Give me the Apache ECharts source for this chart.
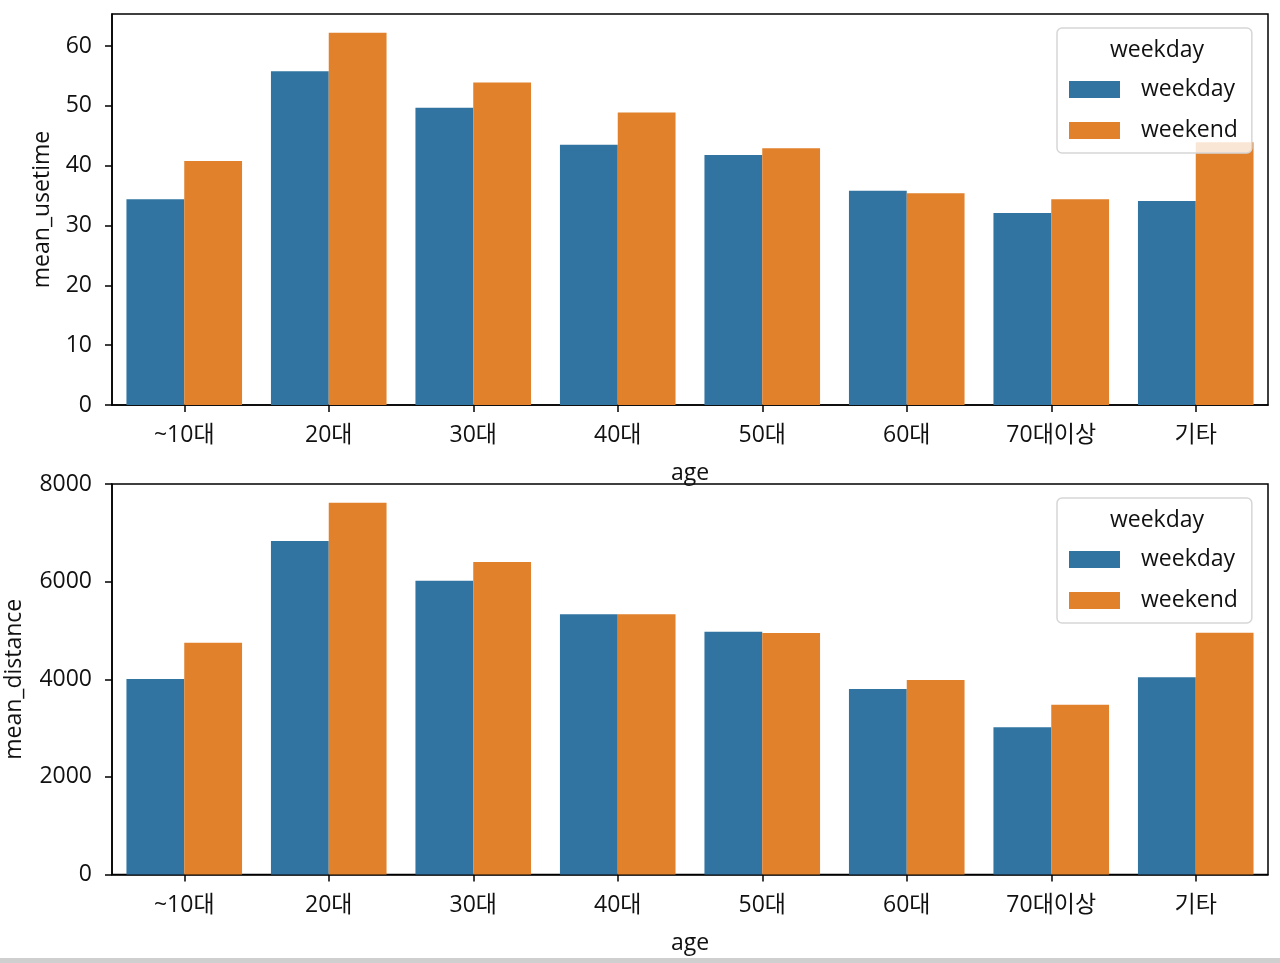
<!DOCTYPE html>
<html>
<head>
<meta charset="utf-8">
<script src="https://cdn.jsdelivr.net/npm/echarts@6/dist/echarts.min.js"></script>
<style>
html,body{margin:0;padding:0;background:#fff;}
#c{width:1280px;height:963px;}
</style>
</head>
<body>
<div id="c"></div>
<script>
const categories = ['~10대','20대','30대','40대','50대','60대','70대이상','기타'];
const usetimeWeekday = [34.4, 55.8, 49.7, 43.5, 41.8, 35.8, 32.1, 34.1];
const usetimeWeekend = [40.8, 62.2, 53.9, 48.9, 42.9, 35.4, 34.4, 43.9];
const distanceWeekday = [4005, 6833, 6020, 5330, 4975, 3800, 3015, 4040];
const distanceWeekend = [4750, 7618, 6402, 5330, 4948, 3985, 3479, 4954];
const usetimeTicks = [0, 10, 20, 30, 40, 50, 60];
const distanceTicks = [0, 2000, 4000, 6000, 8000];
const seriesNames = ['weekday', 'weekend'];
const legendTitle = 'weekday';

const FONT = '"Open Sans", "Noto Sans CJK KR", sans-serif';
const BLUE = '#3274a1', ORANGE = '#e1812c';
const FS = 23;

const chart = echarts.init(document.getElementById('c'), null, {renderer: 'canvas'});

function xAxis(gi) {
  return {
    type: 'category', gridIndex: gi, data: categories,
    name: 'age', nameLocation: 'middle', nameGap: 57,
    nameTextStyle: {fontFamily: FONT, fontSize: FS, color: '#111'},
    axisLine: {lineStyle: {color: '#000', width: 1.5}},
    axisTick: {show: true, alignWithLabel: true, length: 7, lineStyle: {color: '#000', width: 1.5}},
    axisLabel: {fontFamily: FONT, fontSize: FS, color: '#111', margin: 19},
    splitLine: {show: false}
  };
}
function yAxis(gi, name, max, interval, ticks, nameGap) {
  return {
    type: 'value', gridIndex: gi, min: 0, max: max, interval: interval,
    name: name, nameLocation: 'middle', nameGap: nameGap,
    nameTextStyle: {fontFamily: FONT, fontSize: FS, color: '#111'},
    axisLine: {show: true, lineStyle: {color: '#000', width: 1.5}},
    axisTick: {show: true, length: 7, lineStyle: {color: '#000', width: 1.5}, customValues: ticks},
    axisLabel: {fontFamily: FONT, fontSize: FS, color: '#111', margin: 20, customValues: ticks,
      formatter: function (v) { return String(v); }},
    splitLine: {show: false}
  };
}
function legend(top) {
  return {
    orient: 'vertical', left: 1057, top: top,
    data: seriesNames,
    itemWidth: 51, itemHeight: 17, itemGap: 18,
    icon: 'rect',
    backgroundColor: 'rgba(255,255,255,0.8)',
    borderColor: '#d6d6d6', borderWidth: 1.5, borderRadius: 5,
    padding: [50, 14, 11, 12],
    textStyle: {fontFamily: FONT, fontSize: FS, color: '#111', lineHeight: 22, padding: [0, 0, 0, 16]},
    selectedMode: false, z: 10
  };
}

const option = {
  backgroundColor: '#fff',
  animation: false,
  color: [BLUE, ORANGE],
  grid: [
    {left: 112, right: 12, top: 14, height: 391, outerBoundsMode: 'none', containLabel: false, show: true, borderColor: '#000', borderWidth: 1.5, backgroundColor: 'transparent'},
    {left: 112, right: 12, top: 484, height: 390.5, outerBoundsMode: 'none', containLabel: false, show: true, borderColor: '#000', borderWidth: 1.5, backgroundColor: 'transparent'}
  ],
  xAxis: [xAxis(0), xAxis(1)],
  yAxis: [
    yAxis(0, 'mean_usetime', 65.35, 10, usetimeTicks, 58),
    yAxis(1, 'mean_distance', 8000, 2000, distanceTicks, 86)
  ],
  legend: [legend(28), legend(498)],
  graphic: [
    {type: 'text', x: 1157, y: 39, z: 100, style: {text: legendTitle, fontFamily: FONT, fontSize: FS, fill: '#111', textAlign: 'center'}},
    {type: 'text', x: 1157, y: 509, z: 100, style: {text: legendTitle, fontFamily: FONT, fontSize: FS, fill: '#111', textAlign: 'center'}},
    {type: 'rect', x: 0, y: 958, z: 100, shape: {width: 1280, height: 5}, style: {fill: '#cfcfcf'}}
  ],
  series: [
    {name: seriesNames[0], type: 'bar', xAxisIndex: 0, yAxisIndex: 0, data: usetimeWeekday, barGap: '0%', barCategoryGap: '20%', itemStyle: {color: BLUE}},
    {name: seriesNames[1], type: 'bar', xAxisIndex: 0, yAxisIndex: 0, data: usetimeWeekend, barGap: '0%', barCategoryGap: '20%', itemStyle: {color: ORANGE}},
    {name: seriesNames[0], type: 'bar', xAxisIndex: 1, yAxisIndex: 1, data: distanceWeekday, barGap: '0%', barCategoryGap: '20%', itemStyle: {color: BLUE}},
    {name: seriesNames[1], type: 'bar', xAxisIndex: 1, yAxisIndex: 1, data: distanceWeekend, barGap: '0%', barCategoryGap: '20%', itemStyle: {color: ORANGE}}
  ]
};
chart.setOption(option);
</script>
</body>
</html>
